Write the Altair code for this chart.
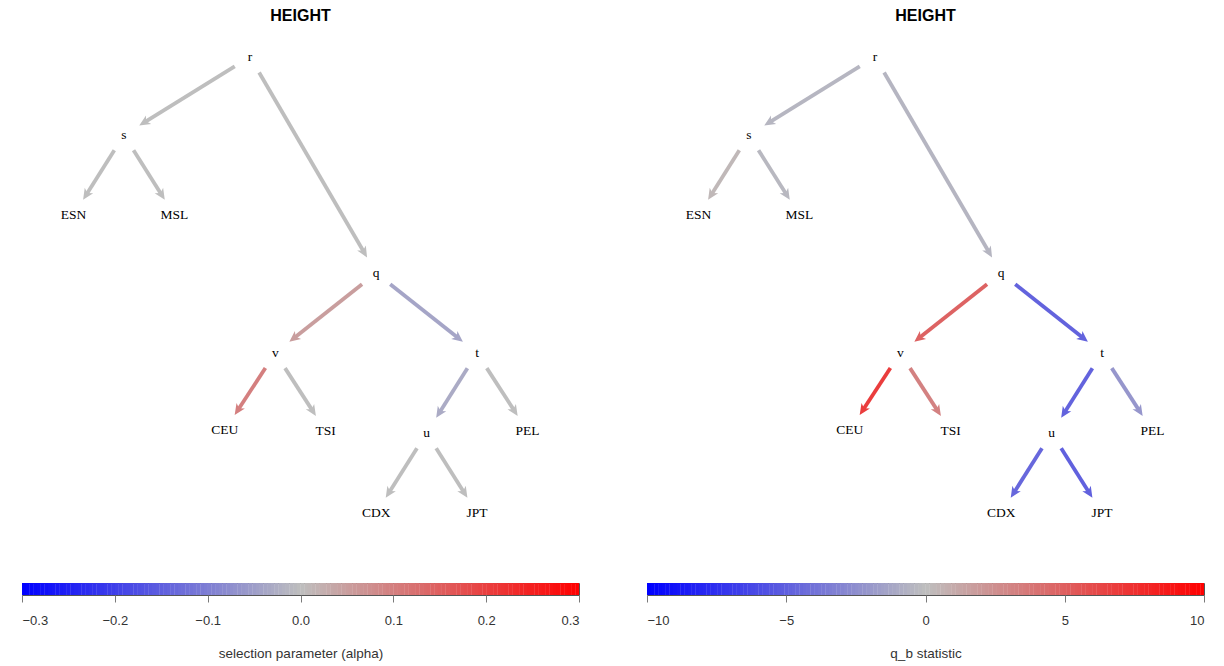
import math
import altair as alt
import pandas as pd

# ---------------- data ----------------
node_names = ["r", "s", "ESN", "MSL", "q", "v", "t", "CEU", "TSI", "u", "PEL", "CDX", "JPT"]
node_x = [3.5, 1, 0, 2, 6, 4, 8, 3, 5, 7, 9, 6, 8]
node_y = [0.0, 0.78, 1.58, 1.58, 2.16, 2.96, 2.96, 3.73, 3.74, 3.76, 3.74, 4.56, 4.56]

edge_parent = ["r", "r", "s", "s", "q", "q", "v", "v", "t", "t", "u", "u"]
edge_child = ["s", "q", "ESN", "MSL", "v", "t", "CEU", "TSI", "u", "PEL", "CDX", "JPT"]
alpha_values = [0.0, 0.0, 0.0, 0.0, 0.05, -0.04, 0.1, 0.0, -0.03, 0.0, 0.0, 0.0]
qb_values = [-0.4, -0.5, 0.3, -0.3, 4.8, -4.8, 6.8, 3.2, -4.8, -2.1, -4.6, -4.9]

alpha_ticks = [-0.3, -0.2, -0.1, 0.0, 0.1, 0.2, 0.3]
qb_ticks = [-10, -5, 0, 5, 10]

panel_title = "HEIGHT"
alpha_label = "selection parameter (alpha)"
qb_label = "q_b statistic"

# ---------------- layout constants ----------------
W = 557
H = 525
X_DOM = [-1.021, 10.022]
Y_DOM = [-0.22, 5.03]
SX = W / (X_DOM[1] - X_DOM[0])
SY = H / (Y_DOM[1] - Y_DOM[0])
GAP = 18.0      # px between node label and arrow ends
NOTCH = 6.0     # line stops a bit behind the arrow tip
ARROW = "M0,0L-1,2.2L0,1.6L1,2.2Z"

GREY = "#bebebe"

nodes = pd.DataFrame({"name": node_names, "x": node_x, "y": node_y})
pos = {n: (x, y) for n, x, y in zip(node_names, node_x, node_y)}


def edge_frame(values):
    rows = []
    for p, c, v in zip(edge_parent, edge_child, values):
        px, py = pos[p]
        cx, cy = pos[c]
        dxp = (cx - px) * SX
        dyp = (cy - py) * SY
        L = math.hypot(dxp, dyp)
        ux, uy = dxp / L, dyp / L
        tipx = cx - GAP * ux / SX
        tipy = cy - GAP * uy / SY
        rows.append({
            "x1": px + GAP * ux / SX, "y1": py + GAP * uy / SY,
            "x2": tipx - NOTCH * ux / SX, "y2": tipy - NOTCH * uy / SY,
            "tx": tipx, "ty": tipy,
            "ang": math.degrees(math.atan2(ux, -uy)) % 360,
            "val": v,
        })
    return pd.DataFrame(rows)


def panel(values, vmax, ticks, fmt, axis_title):
    cscale = alt.Scale(domain=[-vmax, 0, vmax], range=["#0000ff", GREY, "#ff0000"],
                       interpolate="rgb")
    xs = alt.Scale(domain=X_DOM, nice=False, zero=False)
    ys = alt.Scale(domain=Y_DOM, nice=False, zero=False, reverse=True)
    ed = edge_frame(values)

    base_e = alt.Chart(ed)
    lines = base_e.mark_rule(strokeWidth=3.8, strokeCap="butt").encode(
        x=alt.X("x1:Q", scale=xs, axis=None),
        y=alt.Y("y1:Q", scale=ys, axis=None),
        x2="x2:Q", y2="y2:Q",
        color=alt.Color("val:Q", scale=cscale, legend=None),
    )
    heads = base_e.mark_point(shape=ARROW, filled=True, size=100, opacity=1,
                              strokeWidth=0).encode(
        x=alt.X("tx:Q", scale=xs, axis=None),
        y=alt.Y("ty:Q", scale=ys, axis=None),
        angle=alt.Angle("ang:Q", scale=None),
        color=alt.Color("val:Q", scale=cscale, legend=None),
    )
    labels = alt.Chart(nodes).mark_text(font="Liberation Serif", fontSize=13.5,
                                        color="#000000").encode(
        x=alt.X("x:Q", scale=xs, axis=None),
        y=alt.Y("y:Q", scale=ys, axis=None),
        text="name:N",
    )
    tree = alt.layer(lines, heads, labels).properties(
        width=W, height=H,
        title=alt.Title(panel_title, font="Liberation Sans", fontSize=16,
                        fontWeight="bold", color="#000000", anchor="middle", offset=11),
    )

    n = 150
    step = 2 * vmax / n
    bar = alt.Chart(alt.sequence(0, n, 1, as_="i")).transform_calculate(
        v=f"{-vmax} + datum.i * {step}",
    ).transform_calculate(
        v2=f"datum.v + {step * 1.08}",
        vc=f"datum.v + {step / 2}",
    ).mark_rect(clip=True).encode(
        x=alt.X("v:Q", scale=alt.Scale(domain=[-vmax, vmax], nice=False, zero=False),
                axis=alt.Axis(values=ticks, format=fmt, tickSize=7, tickColor="#7a7a7a",
                              tickWidth=1, domain=False, grid=False,
                              labelFont="Liberation Sans", labelFontSize=13,
                              labelColor="#333333", labelPadding=12,
                              title=axis_title, titleFont="Liberation Sans",
                              titleFontSize=13.5, titleFontWeight="normal",
                              titleColor="#333333", titlePadding=19)),
        x2="v2:Q",
        color=alt.Color("vc:Q", scale=cscale, legend=None),
    ).properties(width=W, height=12,
                 view=alt.ViewBackground(stroke="#555555", strokeWidth=1))

    return alt.vconcat(tree, bar, spacing=23, bounds="flush")


left = panel(alpha_values, 0.3, alpha_ticks, ".1f", alpha_label)
right = panel(qb_values, 10, qb_ticks, "d", qb_label)

chart = alt.hconcat(left, right, spacing=66).resolve_scale(
    color="independent"
).properties(
    padding={"left": 13, "top": 0, "right": 5, "bottom": 4},
    background="white",
).configure_view(stroke=None)

chart.save("out.html", embed_options={"renderer": "svg", "actions": False})
